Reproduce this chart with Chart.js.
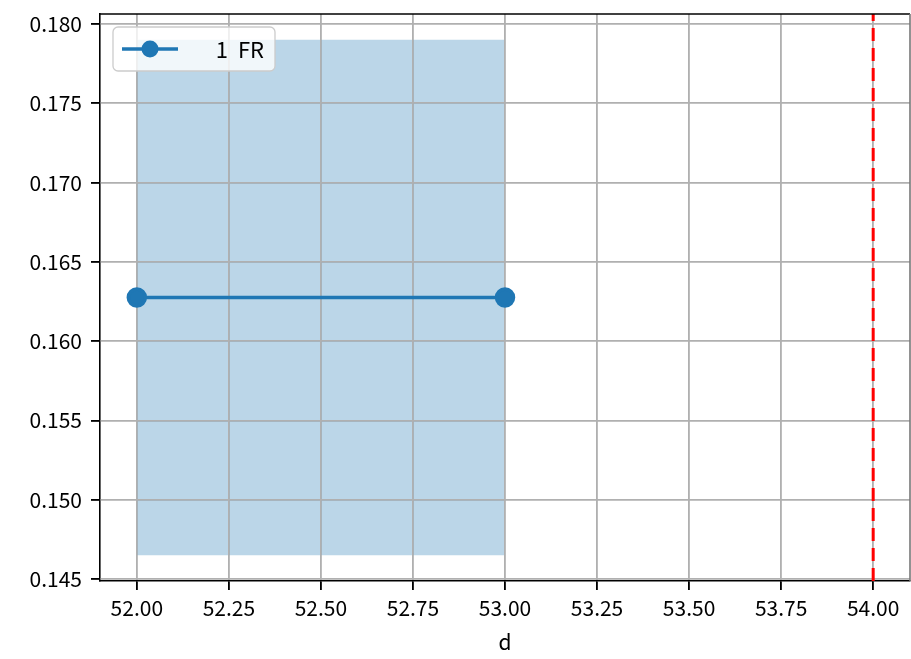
<!DOCTYPE html>
<html>
<head>
<meta charset="utf-8">
<script src="https://cdn.jsdelivr.net/npm/chart.js@4"></script>
<style>
  html, body { margin: 0; background: #fff; overflow: hidden; }
</style>
</head>
<body>
<canvas id="chart" width="911" height="659"></canvas>
<script>
// data
var xTicks = [52, 52.25, 52.5, 52.75, 53, 53.25, 53.5, 53.75, 54];
var yTicks = [0.145, 0.150, 0.155, 0.160, 0.165, 0.170, 0.175, 0.180];
var frX = [52, 53];
var frY = [0.16275, 0.16275];
var bandLow = [0.1465, 0.1465];
var bandHigh = [0.179, 0.179];
var refX = 54;
var xMin = 51.9, xMax = 54.1;
var yMin = 0.14488, yMax = 0.18063;

var FONT = '"Noto Sans CJK JP", "Noto Sans", sans-serif';
var BLUE = '#1f77b4';

function pts(xs, ys) {
	return xs.map((x, i) => ({ x: x, y: ys[i] }));
}

// legend inside upper left + top/right frame, grid redrawn over the band
var extras = {
	id: 'extras',
	afterDatasetDraw(chart, args) {
		if (args.index !== 1) return;
		chart.scales.x.drawGrid(chart.chartArea);
		chart.scales.y.drawGrid(chart.chartArea);
	},
	afterDraw(chart) {
		var ctx = chart.ctx, a = chart.chartArea;
		ctx.save();
		ctx.strokeStyle = '#000';
		ctx.lineWidth = 1.6;
		ctx.beginPath();
		ctx.moveTo(a.left, a.top);
		ctx.lineTo(a.right, a.top);
		ctx.stroke();
		ctx.strokeStyle = '#777';
		ctx.beginPath();
		ctx.moveTo(a.right, a.top);
		ctx.lineTo(a.right, a.bottom);
		ctx.stroke();

		var bx = a.left + 13, by = a.top + 13, bw = 162, bh = 44;
		ctx.fillStyle = 'rgba(255,255,255,0.8)';
		ctx.strokeStyle = '#cccccc';
		ctx.lineWidth = 1.3;
		ctx.beginPath();
		ctx.roundRect(bx, by, bw, bh, 5);
		ctx.fill();
		ctx.stroke();
		var ly = by + bh / 2;
		ctx.strokeStyle = BLUE;
		ctx.lineWidth = 3.5;
		ctx.beginPath();
		ctx.moveTo(bx + 9, ly);
		ctx.lineTo(bx + 65, ly);
		ctx.stroke();
		ctx.fillStyle = BLUE;
		ctx.beginPath();
		ctx.arc(bx + 37, ly, 8.5, 0, Math.PI * 2);
		ctx.fill();
		ctx.fillStyle = '#000';
		ctx.font = '22px ' + FONT;
		ctx.textAlign = 'right';
		ctx.textBaseline = 'middle';
		ctx.fillText('1  FR', bx + bw - 11, ly + 1);
		ctx.restore();
	}
};

new Chart(document.getElementById('chart'), {
	type: 'scatter',
	data: {
		datasets: [
			{
				label: '1 FR',
				data: pts(frX, frY),
				showLine: true,
				borderColor: BLUE,
				backgroundColor: BLUE,
				borderWidth: 3.5,
				pointRadius: 8.5,
				pointHoverRadius: 8.5,
				order: 1
			},
			{
				label: 'band high',
				data: pts(frX, bandHigh),
				showLine: true,
				borderWidth: 0,
				pointRadius: 0,
				backgroundColor: 'rgba(31,119,180,0.3)',
				fill: '+1',
				order: 3
			},
			{
				label: 'band low',
				data: pts(frX, bandLow),
				showLine: true,
				borderWidth: 0,
				pointRadius: 0,
				order: 3
			},
			{
				label: 'ref',
				data: [{ x: refX, y: yMin }, { x: refX, y: yMax }],
				showLine: true,
				borderColor: '#ff0000',
				borderWidth: 3,
				borderDash: [13, 7],
				pointRadius: 0,
				order: 0
			}
		]
	},
	options: {
		responsive: false,
		animation: false,
		layout: { autoPadding: false, padding: { top: 14, right: 1, left: 0, bottom: 0 } },
		plugins: {
			legend: { display: false },
			tooltip: { enabled: false }
		},
		scales: {
			x: {
				type: 'linear',
				min: xMin,
				max: xMax,
				afterBuildTicks: s => { s.ticks = xTicks.map(v => ({ value: v })); },
				afterFit: s => { s.height = 78; s.paddingLeft = 0; s.paddingRight = 0; },
				ticks: {
					callback: v => v.toFixed(2),
					color: '#000',
					font: { family: FONT, size: 21 },
					padding: 5,
					maxRotation: 0,
					autoSkip: false
				},
				grid: { color: '#b0b0b0', lineWidth: 1.6, tickColor: '#000', tickLength: 9 },
				border: { color: '#000', width: 1.6 },
				title: { display: true, text: 'd', color: '#000', font: { family: FONT, size: 21 }, padding: { top: 0 } }
			},
			y: {
				type: 'linear',
				min: yMin,
				max: yMax,
				afterBuildTicks: s => { s.ticks = yTicks.map(v => ({ value: v })); },
				afterFit: s => { s.width = 100; s.paddingTop = 0; s.paddingBottom = 0; },
				ticks: {
					callback: v => v.toFixed(3),
					color: '#000',
					font: { family: FONT, size: 21 },
					padding: 9,
					autoSkip: false
				},
				grid: { color: '#b0b0b0', lineWidth: 1.6, tickColor: '#000', tickLength: 9 },
				border: { color: '#000', width: 1.6 }
			}
		}
	},
	plugins: [extras]
});
</script>
</body>
</html>
